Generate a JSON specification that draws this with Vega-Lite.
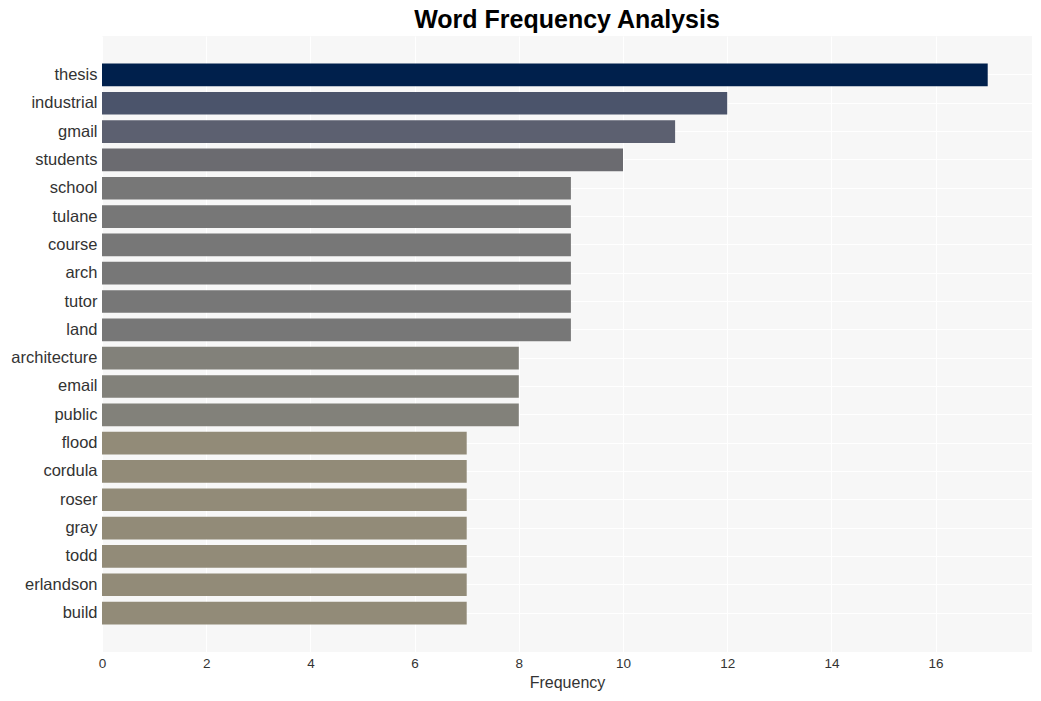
{
  "$schema": "https://vega.github.io/schema/vega-lite/v6.json",
  "width": 930,
  "height": 616,
  "autosize": {"type": "none"},
  "padding": {"left": 102, "top": 36, "right": 9, "bottom": 49},
  "background": "white",
  "config": {
    "view": {"fill": "#f7f7f7", "stroke": null},
    "font": "Liberation Sans"
  },
  "title": {
    "text": "Word Frequency Analysis",
    "fontSize": 25,
    "fontWeight": "bold",
    "font": "Liberation Sans",
    "color": "#000000",
    "anchor": "middle",
    "offset": 3
  },
  "data": {
    "values": [
      {"word": "thesis", "freq": 17},
      {"word": "industrial", "freq": 12},
      {"word": "gmail", "freq": 11},
      {"word": "students", "freq": 10},
      {"word": "school", "freq": 9},
      {"word": "tulane", "freq": 9},
      {"word": "course", "freq": 9},
      {"word": "arch", "freq": 9},
      {"word": "tutor", "freq": 9},
      {"word": "land", "freq": 9},
      {"word": "architecture", "freq": 8},
      {"word": "email", "freq": 8},
      {"word": "public", "freq": 8},
      {"word": "flood", "freq": 7},
      {"word": "cordula", "freq": 7},
      {"word": "roser", "freq": 7},
      {"word": "gray", "freq": 7},
      {"word": "todd", "freq": 7},
      {"word": "erlandson", "freq": 7},
      {"word": "build", "freq": 7}
    ]
  },
  "mark": {"type": "bar"},
  "encoding": {
    "y": {
      "field": "word",
      "type": "nominal",
      "sort": null,
      "scale": {"paddingInner": 0.2, "paddingOuter": 0.975},
      "axis": {
        "title": null,
        "domain": false,
        "ticks": false,
        "labelFontSize": 16.5,
        "labelColor": "#333333",
        "labelPadding": 5,
        "labelBaseline": "middle",
        "grid": true,
        "gridColor": "#ffffff",
        "gridWidth": 1,
        "bandPosition": 0.5
      }
    },
    "x": {
      "field": "freq",
      "type": "quantitative",
      "scale": {"domain": [0, 17.85], "nice": false, "zero": true},
      "axis": {
        "title": "Frequency",
        "titleFontSize": 16,
        "titleFontWeight": "normal",
        "titleColor": "#333333",
        "titlePadding": 5,
        "values": [0, 2, 4, 6, 8, 10, 12, 14, 16],
        "domain": false,
        "ticks": false,
        "labelFlush": false,
        "labelFontSize": 13.5,
        "labelColor": "#333333",
        "labelPadding": 4,
        "grid": true,
        "gridColor": "#ffffff",
        "gridWidth": 1
      }
    },
    "color": {
      "field": "freq",
      "type": "ordinal",
      "scale": {
        "domain": [7, 8, 9, 10, 11, 12, 17],
        "range": ["#928b78", "#82817a", "#777777", "#6b6b70", "#5c6070", "#4b546b", "#00204c"]
      },
      "legend": null
    }
  }
}
